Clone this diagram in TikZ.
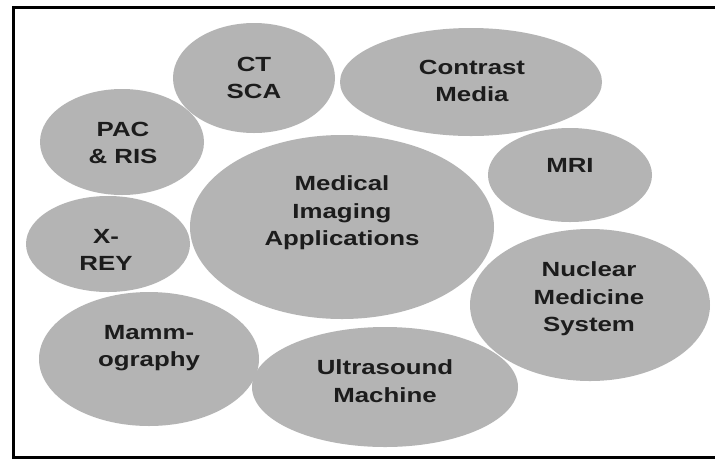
\documentclass[tikz,border=0pt]{standalone}
\usepackage{fontspec}
\usetikzlibrary{shapes.geometric}
\newfontfamily\lblfont{Liberation Sans}[FakeStretch=1.26]
\definecolor{blobgray}{RGB}{180,180,180}
\definecolor{inkdark}{RGB}{28,28,28}
\begin{document}
\begin{tikzpicture}[x=1pt,y=-1pt,
  blob/.style={ellipse, fill=blobgray, draw=none, inner sep=0pt},
  lbl/.style={align=center, text=inkdark, inner sep=0pt,
    font=\lblfont\bfseries\fontsize{20.5}{27.5}\selectfont},
  frame/.style={line width=3pt, black}]
\useasboundingbox (0,0) rectangle (715,459);
\fill[white] (0,0) rectangle (715,459);

% outer frame: left, top and bottom rules
\coordinate (tl) at (13.5,7);
\coordinate (tr) at (715,7);
\coordinate (bl) at (13.5,457);
\coordinate (br) at (715,457);
\draw[frame, line cap=rect] (tr) -- (tl) -- (bl) -- (br);

% ellipses
\node[blob, minimum width=162pt, minimum height=110pt] (ct)   at (254,78)  {};
\node[blob, minimum width=164pt, minimum height=106pt] (pac)  at (122,142) {};
\node[blob, minimum width=262pt, minimum height=108pt] (cm)   at (471,82)  {};
\node[blob, minimum width=164pt, minimum height=94pt]  (mri)  at (570,175) {};
\node[blob, minimum width=304pt, minimum height=184pt] (mia)  at (342,227) {};
\node[blob, minimum width=164pt, minimum height=96pt]  (xr)   at (108,244) {};
\node[blob, minimum width=220pt, minimum height=134pt] (mam)  at (149,359) {};
\node[blob, minimum width=266pt, minimum height=120pt] (us)   at (385,387) {};
\node[blob, minimum width=240pt, minimum height=152pt] (nms)  at (590,305) {};

% labels
\node[lbl] (ctl)  at (254,78)  {CT\\SCA};
\node[lbl] (pacl) at (123,143) {PAC\\\& RIS};
\node[lbl] (cml)  at (472,81)  {Contrast\\Media};
\node[lbl] (mril) at (570,165) {MRI};
\node[lbl] (mial) at (342,213) {Medical\\Imaging\\Applications};
\node[lbl] (xrl)  at (106,250) {X-\\REY};
\node[lbl] (maml) at (149,348) {Mamm-\\ography};
\node[lbl] (usl)  at (385,381) {Ultrasound\\Machine};
\node[lbl] (nmsl) at (589,299) {Nuclear\\Medicine\\System};
\end{tikzpicture}
\end{document}
